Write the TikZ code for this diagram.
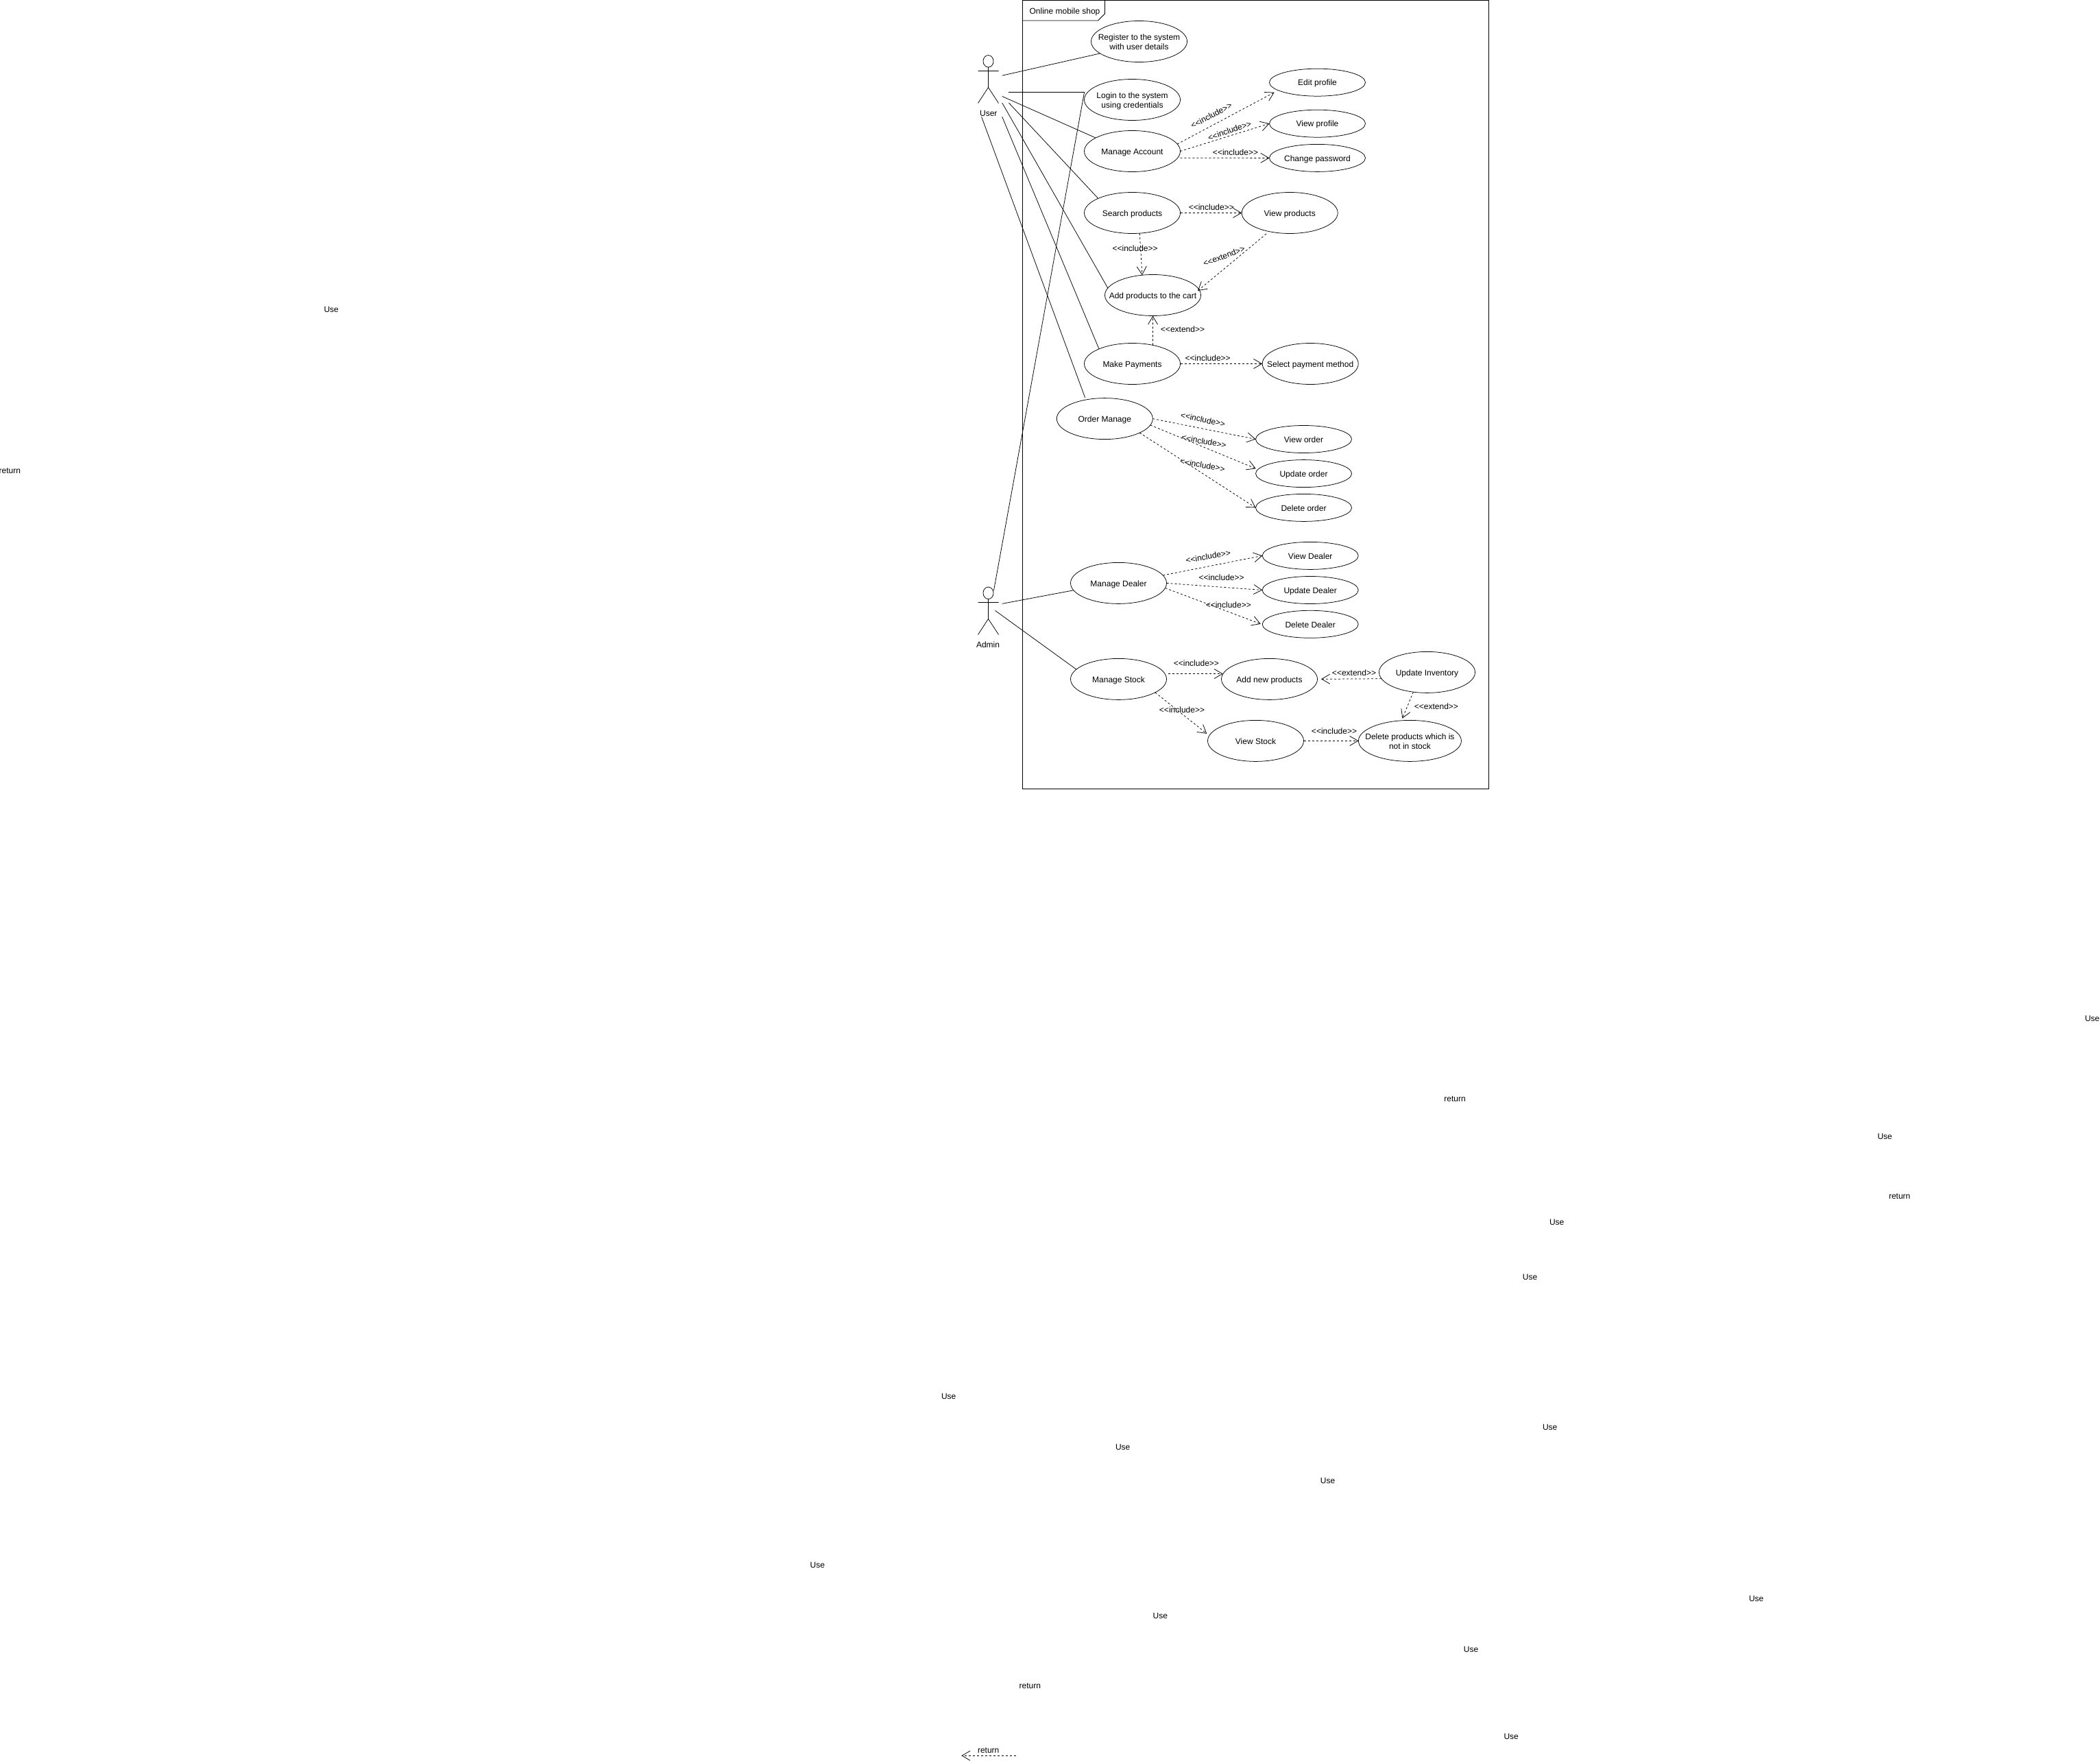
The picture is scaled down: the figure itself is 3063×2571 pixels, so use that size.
\documentclass[tikz,border=0pt]{standalone}
\usepackage{fontspec}
\setmainfont{Liberation Sans}
\usetikzlibrary{shapes.geometric,arrows.meta}
\newcommand{\incl}{<{}<include>{}>}
\newcommand{\extd}{<{}<extend>{}>}
\newcommand{\ut}[1]{\raisebox{-5pt}[0pt][0pt]{\makebox[0pt][c]{\begin{tabular}{@{}c@{}}#1\end{tabular}}}}
\tikzset{
  every node/.style={font=\fontsize{12}{14}\selectfont, inner sep=0pt, outer sep=0pt},
  ucbig/.style={ellipse, draw=black, fill=white, line width=0.75pt, minimum width=140pt, minimum height=60pt},
  ucsmall/.style={ucbig, minimum height=40pt},
  assoc/.style={draw=black, line width=0.75pt},
  dep/.style={draw=black, line width=0.75pt, dash pattern=on 3pt off 3pt, -{Straight Barb[length=12pt,width=14pt,line width=0.75pt]}},
  lbl/.style={align=center},
  stray/.style={xshift=0.7pt,yshift=-0.7pt},
  framebox/.style={draw=black, line width=0.75pt, rectangle}
}
\begin{document}
\begin{tikzpicture}[x=1pt,y=-1pt]
\useasboundingbox (0,0) rectangle (3063,2571);
\fill[white] (0,0) rectangle (3063,2571);

% frame
\node[framebox, minimum width=680pt, minimum height=1150pt] (frame) at (1831.4,575.3) {};
\draw[line width=0.75pt] (frame.north west) -- (1611.5,0.3) -- (1611.5,20) -- (1601.5,30) -- (1491.4,30);
\node[lbl] (title) at (1553,17.3) {Online mobile shop};

% use cases
\node[ucbig] (reg) at (1661.5,60.5) {\ut{Register to the system\\with user details}};
\node[ucbig] (log) at (1651.5,145.5) {\ut{Login to the system\\using credentials}};
\node[ucbig] (ma)  at (1651.5,220.5) {\ut{Manage Account}};
\node[ucsmall] (ep) at (1921.5,120.2) {\ut{Edit profile}};
\node[ucsmall] (vp) at (1921.5,180.2) {\ut{View profile}};
\node[ucsmall] (cp) at (1921.5,230.4) {\ut{Change password}};
\node[ucbig] (sp) at (1651.5,310.5) {\ut{Search products}};
\node[ucbig] (vpr) at (1881.2,310.5) {\ut{View products}};
\node[ucbig] (add) at (1681.5,430.5) {\ut{Add products to the cart}};
\node[ucbig] (pay) at (1651.5,530.5) {\ut{Make Payments}};
\node[ucbig] (sel) at (1911.2,530.5) {\ut{Select payment method}};
\node[ucbig] (ord) at (1611.3,610.6) {\ut{Order Manage}};
\node[ucsmall] (vo) at (1901.5,640.5) {\ut{View order}};
\node[ucsmall] (uo) at (1901.5,690.6) {\ut{Update order}};
\node[ucsmall] (dlo) at (1901.5,740.4) {\ut{Delete order}};
\node[ucbig] (dl) at (1631.5,850.4) {\ut{Manage Dealer}};
\node[ucsmall] (vd) at (1911.2,810.4) {\ut{View Dealer}};
\node[ucsmall] (ud) at (1911.2,860.5) {\ut{Update Dealer}};
\node[ucsmall] (dd) at (1911.2,910.3) {\ut{Delete Dealer}};
\node[ucbig] (st) at (1631.5,990.4) {\ut{Manage Stock}};
\node[ucbig] (an) at (1851.5,990.4) {\ut{Add new products}};
\node[ucbig] (ui) at (2081.5,980.4) {\ut{Update Inventory}};
\node[ucbig] (vs) at (1831.5,1080.4) {\ut{View Stock}};
\node[ucbig, minimum width=150pt] (dp) at (2056.4,1080.4) {\ut{Delete products which is\\not in stock}};

% actors
\node[ellipse, draw=black, line width=0.75pt, minimum width=15pt, minimum height=17.5pt] (uh) at (1441.5,89.3) {};
\coordinate (ub1) at (1441.5,98.1);
\coordinate (ub2) at (1441.5,127.5);
\coordinate (ual) at (1426.5,103.6);
\coordinate (uar) at (1456.5,103.6);
\coordinate (ull) at (1426.5,150.5);
\coordinate (ulr) at (1456.5,150.5);
\draw[assoc] (ub1) -- (ub2) (ual) -- (uar) (ull) -- (ub2) -- (ulr);
\node[lbl] (ulabel) at (1441.8,165.5) {User};

\node[ellipse, draw=black, line width=0.75pt, minimum width=15pt, minimum height=17.5pt] (ah) at (1441.5,864.8) {};
\coordinate (ab1) at (1441.5,873.6);
\coordinate (ab2) at (1441.5,902.5);
\coordinate (aal) at (1426.5,878.6);
\coordinate (aar) at (1456.5,878.6);
\coordinate (all) at (1426.5,925.5);
\coordinate (alr) at (1456.5,925.5);
\draw[assoc] (ab1) -- (ab2) (aal) -- (aar) (all) -- (ab2) -- (alr);
\node[lbl] (alabel) at (1441,940.2) {Admin};

% free ends of associations
\coordinate (u1) at (1461.7,110.2);
\coordinate (u2) at (1471.4,134.3);
\coordinate (u3) at (1461.7,140.5);
\coordinate (u4) at (1471.4,150);
\coordinate (u5) at (1461.7,150);
\coordinate (u6) at (1461.7,170.3);
\coordinate (u7) at (1431.6,170.3);
\coordinate (a0) at (1449.5,861);
\coordinate (a1) at (1461.7,880.4);
\coordinate (a2) at (1451.5,890.4);
\coordinate (logl) at (1581.6,134.3);
\coordinate (ordt) at (1582.6,579.8);

\draw[assoc] (u1) -- (reg.197);
\draw[assoc] (u2) -- (logl);
\draw[assoc] (u3) -- (ma.160.6);
\draw[assoc] (u4) -- (sp.157);
\draw[assoc] (u5) -- (add.171);
\draw[assoc] (u6) -- (pay.156.3);
\draw[assoc] (u7) -- (ordt);
\draw[assoc] (a0) -- (logl);
\draw[assoc] (a1) -- (dl.189.7);
\draw[assoc] (a2) -- (st.167.3);

% free ends of dependencies
\coordinate (mas) at (1721.4,230.3);
\coordinate (vpra) at (1847,341);
\coordinate (sts) at (1704,982.6);
\coordinate (ane) at (1783.7,982.6);
\coordinate (uie) at (1927,990.3);
\coordinate (epe) at (1858.7,134.7);
\coordinate (adde) at (1747,424);
\coordinate (uoe) at (1831.6,683.3);
\coordinate (dde) at (1838.8,909.9);
\coordinate (vse) at (1760.2,1069.9);
\coordinate (dpe) at (2045.4,1047.7);

\draw[dep] (ma.9.3) -- (epe);
\draw[dep] (ma.east) -- (vp.west);
\draw[dep] (mas) -- (cp.west);
\draw[dep] (sp.east) -- (vpr.west);
\draw[dep] (sp.-70.2) -- (add.118.9);
\draw[dep] (vpra) -- (adde);
\draw[dep] (pay.42) -- (add.south);
\draw[dep] (pay.east) -- (sel.west);
\draw[dep] (ord.east) -- (vo.west);
\draw[dep] (ord.-8.2) -- (uoe);
\draw[dep] (ord.-22.7) -- (dlo.west);
\draw[dep] (dl.10.9) -- (vd.west);
\draw[dep] (dl.east) -- (ud.west);
\draw[dep] (dl.-6.3) -- (dde);
\draw[dep] (sts) -- (ane);
\draw[dep] (st.-20.6) -- (vse);
\draw[dep] (ui.188.3) -- (uie);
\draw[dep] (ui.235.6) -- (dpe);
\draw[dep] (vs.east) -- (dp.west);

% dependency labels
\node[lbl, rotate=28] (l1) at (1766.8,168.4) {\incl};
\node[lbl, rotate=19] (l2) at (1793.4,190.6) {\incl};
\node[lbl] (l3) at (1802,222.1) {\incl};
\node[lbl] (l4) at (1766.8,302.1) {\incl};
\node[lbl] (l5) at (1655.6,362.2) {\incl};
\node[lbl, rotate=21] (l6) at (1785.2,373.5) {\extd};
\node[lbl] (l7) at (1725,480) {\extd};
\node[lbl] (l8) at (1761.7,522.1) {\incl};
\node[lbl, rotate=-12] (l9) at (1754.6,611.8) {\incl};
\node[lbl, rotate=-10] (l10) at (1756.1,643.5) {\incl};
\node[lbl, rotate=-10] (l11) at (1754,678.4) {\incl};
\node[lbl, rotate=10] (l12) at (1762.2,811.5) {\incl};
\node[lbl] (l13) at (1781.6,842.3) {\incl};
\node[lbl] (l14) at (1791.8,882.1) {\incl};
\node[lbl] (l15) at (1744.9,967.4) {\incl};
\node[lbl] (l16) at (1724,1035.1) {\incl};
\node[lbl] (l17) at (1975,980.8) {\extd};
\node[lbl] (l18) at (2094.9,1030.2) {\extd};
\node[lbl] (l19) at (1946,1066.1) {\incl};

% stray labels
\node[stray] (t1) at (482.5,451) {Use};
\node[stray] (t2) at (13.7,685.6) {return};
\node[stray] (t3) at (3051,1484.6) {Use};
\node[stray] (t4) at (2121.4,1601.8) {return};
\node[stray] (t5) at (2748.5,1656.5) {Use};
\node[stray] (t6) at (2770,1744.4) {return};
\node[stray] (t7) at (2270,1781.5) {Use};
\node[stray] (t8) at (2230.8,1861.6) {Use};
\node[stray] (t9) at (1383,2035.5) {Use};
\node[stray] (t10) at (2260,2080.4) {Use};
\node[stray] (t11) at (1637,2109.7) {Use};
\node[stray] (t12) at (1935.8,2158.5) {Use};
\node[stray] (t13) at (1191.6,2281.6) {Use};
\node[stray] (t14) at (2561,2330.4) {Use};
\node[stray] (t15) at (1691.6,2355.8) {Use};
\node[stray] (t16) at (2144.9,2404.7) {Use};
\node[stray] (t17) at (1501.7,2458.3) {return};
\node[stray] (t18) at (2203.5,2531.6) {Use};
\node[stray] (t19) at (1441,2552.3) {return};
\coordinate (rs) at (1481.7,2560.3);
\coordinate (re) at (1402.3,2560.3);
\draw[dep] (rs) -- (re);
\end{tikzpicture}
\end{document}
